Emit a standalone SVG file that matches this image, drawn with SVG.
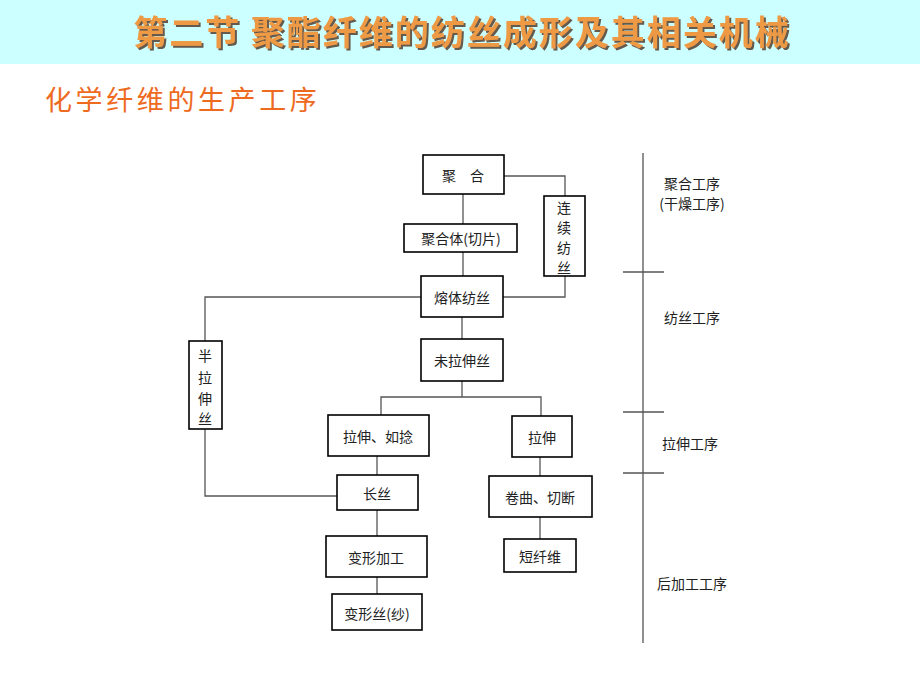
<svg xmlns="http://www.w3.org/2000/svg" width="920" height="690" viewBox="0 0 920 690">
<defs>
<filter id="shadow" x="-5%" y="-30%" width="110%" height="160%">
<feDropShadow dx="2" dy="2" stdDeviation="0.6" flood-color="#5a4a3a" flood-opacity="0.9"/>
</filter>
</defs>
<style>
.box{fill:#fff;stroke:#000;stroke-width:1.6}
.ln{fill:none;stroke:#555;stroke-width:1.3}
.t{font-family:"Noto Sans CJK SC","Noto Sans",sans-serif;font-size:14px;fill:#222;text-anchor:middle;dominant-baseline:central}
.title{font-family:"Noto Sans CJK SC",sans-serif;font-size:34px;font-weight:bold;text-anchor:middle;letter-spacing:2px}
</style>
<rect x="0" y="0" width="920" height="690" fill="#fff"/>
<rect x="0" y="0" width="920" height="64" fill="#CCFFFF"/>
<text class="title" x="462" y="45" fill="#EE9A45" filter="url(#shadow)">第二节 聚酯纤维的纺丝成形及其相关机械</text>
<text x="45" y="110" font-family="Noto Sans CJK SC,sans-serif" font-size="27" letter-spacing="3.6" fill="#EE6A1E">化学纤维的生产工序</text>

<g id="connectors">
<path class="ln" d="M463 194V224"/>
<path class="ln" d="M504 176H565V196"/>
<path class="ln" d="M565 276V297H503"/>
<path class="ln" d="M463 252V276"/>
<path class="ln" d="M421 297H205V341"/>
<path class="ln" d="M205 429V496H337"/>
<path class="ln" d="M462 317V339"/>
<path class="ln" d="M462 381V397"/>
<path class="ln" d="M381 415V397H541V416"/>
<path class="ln" d="M377 456V475"/>
<path class="ln" d="M377 510V536"/>
<path class="ln" d="M377 577V594"/>
<path class="ln" d="M540 457V476"/>
<path class="ln" d="M540 517V539"/>
</g>

<g id="n-juhe"><rect class="box" x="423" y="155" width="81" height="39"/><text class="t" x="463" y="175">聚　合</text></g>
<g id="n-qiepian"><rect class="box" x="404" y="224" width="113" height="28"/><text class="t" x="461" y="238">聚合体(切片)</text></g>
<g id="n-lianxu"><rect class="box" x="544" y="196" width="41" height="80"/>
<text class="t" x="564" y="207">连</text><text class="t" x="564" y="227">续</text><text class="t" x="564" y="247">纺</text><text class="t" x="564" y="267">丝</text></g>
<g id="n-rongti"><rect class="box" x="421" y="276" width="82" height="41"/><text class="t" x="462" y="297">熔体纺丝</text></g>
<g id="n-weilashen"><rect class="box" x="421" y="339" width="82" height="42"/><text class="t" x="462" y="360">未拉伸丝</text></g>
<g id="n-banlashen"><rect class="box" x="189" y="341" width="33" height="88"/>
<text class="t" x="205" y="355">半</text><text class="t" x="205" y="377">拉</text><text class="t" x="205" y="398">伸</text><text class="t" x="205" y="418">丝</text></g>
<g id="n-lashenrunian"><rect class="box" x="328" y="415" width="101" height="41"/><text class="t" x="378" y="436">拉伸、如捻</text></g>
<g id="n-lashen"><rect class="box" x="512" y="416" width="60" height="41"/><text class="t" x="542" y="437">拉伸</text></g>
<g id="n-changsi"><rect class="box" x="337" y="475" width="81" height="35"/><text class="t" x="377" y="493">长丝</text></g>
<g id="n-juanqu"><rect class="box" x="489" y="476" width="103" height="41"/><text class="t" x="540" y="497">卷曲、切断</text></g>
<g id="n-bianxingjiagong"><rect class="box" x="326" y="536" width="101" height="41"/><text class="t" x="376" y="557">变形加工</text></g>
<g id="n-duanxianwei"><rect class="box" x="504" y="539" width="72" height="33"/><text class="t" x="540" y="556">短纤维</text></g>
<g id="n-bianxingsi"><rect class="box" x="332" y="594" width="90" height="36"/><text class="t" x="377" y="613">变形丝(纱)</text></g>

<g id="stages">
<path class="ln" d="M643 153V643M623 272H664M623 412H664M623 473H664"/>
<text class="t" x="692" y="183">聚合工序</text>
<text class="t" x="692" y="203">(干燥工序)</text>
<text class="t" x="692" y="317">纺丝工序</text>
<text class="t" x="690" y="443">拉伸工序</text>
<text class="t" x="692" y="583">后加工工序</text>
</g>
</svg>
